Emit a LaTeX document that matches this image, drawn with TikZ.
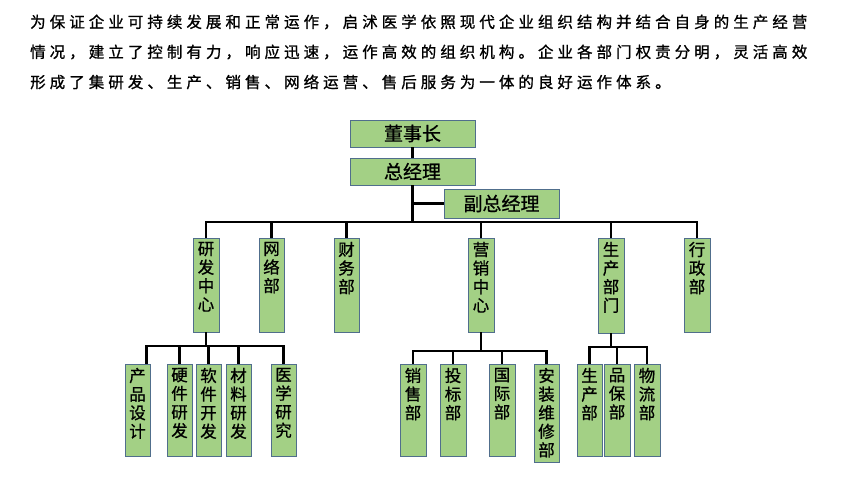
\documentclass[tikz,border=0pt]{standalone}
\usepackage{fontspec}
\setmainfont{Noto Sans CJK SC}
\newfontfamily\paraf[LetterSpace=26,FakeBold=1]{Noto Sans CJK SC}
\newfontfamily\boxf[FakeBold=0.8]{Noto Sans CJK SC}
\usetikzlibrary{fit,shadows}
\definecolor{gbox}{RGB}{163,208,133}
\definecolor{gedge}{RGB}{80,110,140}
\tikzset{
 bx/.style={draw=gedge,fill=gbox,line width=0.6pt,inner sep=0pt,drop shadow={shadow xshift=1.2pt,shadow yshift=-1.2pt,fill=black!75,opacity=1}},
 vt/.style={align=center,font=\boxf\fontsize{16.5}{18.6}\selectfont,inner sep=0pt},
 ht/.style={font=\boxf\fontsize{19}{22}\selectfont,inner sep=0pt},
 para/.style={anchor=west,font=\paraf\fontsize{15.5}{18}\selectfont,inner sep=0pt},
 ln/.style={line width=2.2pt,black}
}
\newcommand\obox[6]{\node[bx,fit={(#2,#3)(#4,#5)}] (#1) {};
 \node[vt,anchor=north] (#1t) at ([yshift=-4pt]#1.north) {#6};}
\begin{document}
\begin{tikzpicture}[x=1pt,y=-1pt]
\useasboundingbox[fill=white] (0,0) rectangle (846,477);
\node[para] (p1) at (30,22) {为保证企业可持续发展和正常运作，启沭医学依照现代企业组织结构并结合自身的生产经营};
\node[para] (p2) at (30,52) {情况，建立了控制有力，响应迅速，运作高效的组织机构。企业各部门权责分明，灵活高效};
\node[para] (p3) at (30,82) {形成了集研发、生产、销售、网络运营、售后服务为一体的良好运作体系。};
% top
\node[bx,fit={(350,120)(475,147)}] (dsz) {};
\node[ht] at (dsz) {董事长};
\node[bx,fit={(350,158)(475,185)}] (zjl) {};
\node[ht] at (zjl) {总经理};
\node[bx,fit={(444,189)(559,218)}] (fzjl) {};
\node[ht] at (fzjl) {副总经理};
\coordinate (bus) at (0,222);
\coordinate (b1) at (0,346);
\coordinate (b2) at (0,351);
\coordinate (b3) at (0,347);
% level 2
\obox{yf}{193}{238}{219}{332}{研\\发\\中\\心}
\obox{wl}{259}{238}{284}{332}{网\\络\\部}
\obox{cw}{334}{238}{359}{332}{财\\务\\部}
\obox{yx}{468}{238}{494}{332}{营\\销\\中\\心}
\obox{sc}{598}{238}{624}{333}{生\\产\\部\\门}
\obox{xz}{684}{238}{710}{332}{行\\政\\部}
% level 3
\obox{cp}{125}{364}{150}{456}{产\\品\\设\\计}
\obox{yj}{167}{364}{192}{456}{硬\\件\\研\\发}
\obox{rj}{196}{364}{221}{456}{软\\件\\开\\发}
\obox{cl}{226}{364}{251}{456}{材\\料\\研\\发}
\obox{yx2}{271}{364}{296}{456}{医\\学\\研\\究}
\obox{xs}{400}{364}{426}{456}{销\\售\\部}
\obox{tb}{440}{364}{466}{456}{投\\标\\部}
\obox{gj}{489}{364}{515}{456}{国\\际\\部}
\obox{az}{534}{364}{559}{462}{安\\装\\维\\修\\部}
\obox{scb}{577}{364}{602}{456}{生\\产\\部}
\obox{pb}{604}{364}{630}{456}{品\\保\\部}
\obox{wlb}{634}{364}{660}{456}{物\\流\\部}
% connectors
\draw[ln] (dsz.south) -- (zjl.north);
\draw[ln] (zjl.south) -- (zjl.south |- bus);
\draw[ln] (zjl.south |- fzjl.west) -- (fzjl.west);
\draw[ln] (yf.north) -- (yf.north |- bus) -- (xz.north |- bus) -- (xz.north);
\foreach \n in {wl,cw,yx,sc} \draw[ln] (\n.north) -- (\n.north |- bus);
\draw[ln] (yf.south) -- (yf.south |- b1);
\draw[ln] ([xshift=9pt]cp.north) -- ([xshift=9pt]cp.north |- b1) -- (yx2.north |- b1) -- (yx2.north);
\foreach \n in {yj,rj,cl} \draw[ln] (\n.north) -- (\n.north |- b1);
\draw[ln] (yx.south) -- (yx.south |- b2);
\draw[ln] (xs.north) -- (xs.north |- b2) -- (az.north |- b2) -- (az.north);
\foreach \n in {tb,gj} \draw[ln] (\n.north) -- (\n.north |- b2);
\draw[ln] (sc.south) -- (sc.south |- b3);
\draw[ln] (scb.north) -- (scb.north |- b3) -- (wlb.north |- b3) -- (wlb.north);
\draw[ln] (pb.north) -- (pb.north |- b3);
\end{tikzpicture}
\end{document}
